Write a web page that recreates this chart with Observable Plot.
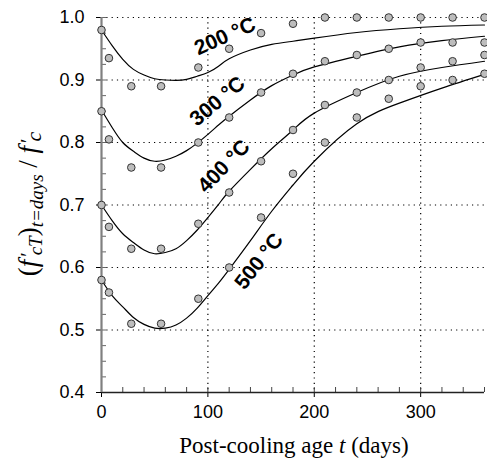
<!DOCTYPE html>
<html><head><meta charset="utf-8">
<script src="https://cdn.jsdelivr.net/npm/d3@7"></script>
<script src="https://cdn.jsdelivr.net/npm/@observablehq/plot@0.6"></script>
<style>body{margin:0;background:#fff}</style>
</head><body><div id="chart"></div>
<script>
// Observed (measured) values
const days = [0, 7, 28, 56, 91, 120, 150, 180, 210, 240, 270, 300, 330, 360];
const obs200 = [0.98, 0.935, 0.89, 0.89, 0.92, 0.95, 0.975, 0.99, 1.0, 1.0, 1.0, 1.0, 1.0, 1.0];
const obs300 = [0.85, 0.805, 0.76, 0.76, 0.80, 0.84, 0.88, 0.91, 0.93, 0.94, 0.95, 0.96, 0.96, 0.96];
const obs400 = [0.70, 0.665, 0.63, 0.63, 0.67, 0.72, 0.77, 0.82, 0.86, 0.88, 0.90, 0.92, 0.93, 0.94];
const obs500 = [0.58, 0.56, 0.51, 0.51, 0.55, 0.60, 0.68, 0.75, 0.80, 0.84, 0.87, 0.89, 0.90, 0.91];

// Fitted curves
const fitDays = [0, 10, 20, 30, 40, 50, 60, 70, 80, 90, 100, 110, 120, 140, 160, 180, 200, 240, 280, 320, 360];
const fit200 = [0.980, 0.955, 0.933, 0.917, 0.908, 0.902, 0.900, 0.8995, 0.901, 0.906, 0.912, 0.922, 0.934, 0.948, 0.957, 0.962, 0.967, 0.976, 0.982, 0.986, 0.988];
const fit300 = [0.852, 0.824, 0.800, 0.786, 0.775, 0.770, 0.772, 0.778, 0.787, 0.799, 0.813, 0.828, 0.842, 0.868, 0.891, 0.908, 0.921, 0.938, 0.953, 0.963, 0.970];
const fit400 = [0.700, 0.675, 0.654, 0.640, 0.628, 0.622, 0.624, 0.630, 0.643, 0.660, 0.680, 0.701, 0.722, 0.757, 0.790, 0.820, 0.847, 0.880, 0.906, 0.920, 0.930];
const fit500 = [0.580, 0.555, 0.537, 0.520, 0.509, 0.503, 0.503, 0.508, 0.519, 0.535, 0.555, 0.575, 0.597, 0.643, 0.690, 0.732, 0.770, 0.830, 0.863, 0.887, 0.909];

const temps = ["200 °C", "300 °C", "400 °C", "500 °C"];
const labelT = [116, 109, 115, 148];
const labelV = [0.970, 0.866, 0.762, 0.610];

const xMajor = [0, 100, 200, 300];
const xMinor = d3.range(0, 361, 20);
const yMajor = [0.4, 0.5, 0.6, 0.7, 0.8, 0.9, 1.0];
const yMinor = d3.range(0, 25).map(i => 0.4 + i * 0.025);
const xGrid = [100, 200, 300];
const yGrid = [0.5, 0.6, 0.7, 0.8, 0.9, 1.0];

const obsSeries = [obs200, obs300, obs400, obs500];
const fitSeries = [fit200, fit300, fit400, fit500];
const obsData = obsSeries.flatMap((s, k) => s.map((v, i) => ({t: days[i], v, temp: temps[k]})));
const fitData = fitSeries.flatMap((s, k) => s.map((v, i) => ({t: fitDays[i], v, temp: temps[k]})));
const labelData = temps.map((text, k) => ({text, t: labelT[k], v: labelV[k]}));
const angles = [-24, -40, -46, -52];

const sans = "'Liberation Sans', Arial, sans-serif";
const serif = "'Liberation Serif', 'Times New Roman', serif";
const dots = "1.2,4.1";

const svg = Plot.plot({
  width: 487, height: 465,
  marginLeft: 101, marginRight: 3, marginTop: 17, marginBottom: 73,
  style: {fontFamily: sans, fontSize: "18px", background: "white", color: "black", overflow: "visible"},
  x: {domain: [0, 360]},
  y: {domain: [0.4, 1.0]},
  marks: [
    Plot.gridX(xGrid, {stroke: "black", strokeOpacity: 1, strokeDasharray: dots, strokeWidth: 1.2}),
    Plot.gridY(yGrid, {stroke: "black", strokeOpacity: 1, strokeDasharray: dots, strokeWidth: 1.2}),
    Plot.axisX(xMinor, {tickSize: -5, tickFormat: () => "", label: null, stroke: "#444"}),
    Plot.axisX(xMajor, {tickSize: 5, tickPadding: 8, fontSize: 18, label: null, tickFormat: d => String(d)}),
    Plot.axisY(yMinor, {tickSize: -5, tickFormat: () => "", label: null, stroke: "#666"}),
    Plot.axisY(yMajor, {tickSize: 5, tickPadding: 12, fontSize: 18, label: null, tickFormat: d3.format(".1f")}),
    Plot.ruleY([0.4], {stroke: "#222", strokeWidth: 1.5}),
    Plot.ruleX([0], {stroke: "#808080", strokeWidth: 2.2}),
    Plot.line(fitData, {x: "t", y: "v", z: "temp", curve: "natural", stroke: "black", strokeWidth: 1.2}),
    Plot.dot(obsData, {x: "t", y: "v", r: 3.8, fill: "#bdbdbd", stroke: "#333", strokeWidth: 1}),
    ...labelData.map((d, k) => Plot.text([d], {x: "t", y: "v", text: "text", rotate: angles[k], fontWeight: "bold", fontSize: 21, fontFamily: sans, fill: "black"}))
  ]
});

const s = d3.select(svg);
const xl = s.append("text")
  .attr("x", 294).attr("y", 453)
  .attr("text-anchor", "middle")
  .style("font-family", serif).style("font-size", "23px").attr("fill", "black");
xl.append("tspan").text("Post-cooling age ");
xl.append("tspan").style("font-style", "italic").text("t");
xl.append("tspan").text(" (days)");

const yl = s.append("text")
  .attr("transform", "translate(37,204) rotate(-90)")
  .attr("text-anchor", "middle")
  .style("font-family", serif).style("font-size", "27px").attr("fill", "black");
yl.append("tspan").text("(");
yl.append("tspan").style("font-style", "italic").text("f");
yl.append("tspan").attr("dx", 3).attr("font-size", "20px").attr("dy", -2).text("′");
yl.append("tspan").style("font-style", "italic").style("font-size", "19px").attr("dy", 7).attr("dx", -3).text("cT");
yl.append("tspan").attr("dy", -5).text(")");
yl.append("tspan").style("font-style", "italic").style("font-size", "19px").attr("dy", 6).text("t=days");
yl.append("tspan").attr("dy", -6).text(" / ");
yl.append("tspan").style("font-style", "italic").text("f");
yl.append("tspan").attr("dx", 3).attr("font-size", "20px").attr("dy", -2).text("′");
yl.append("tspan").style("font-style", "italic").style("font-size", "22px").attr("dy", 6).attr("dx", -3).text("c");

document.getElementById("chart").appendChild(svg);
</script>
</body></html>
